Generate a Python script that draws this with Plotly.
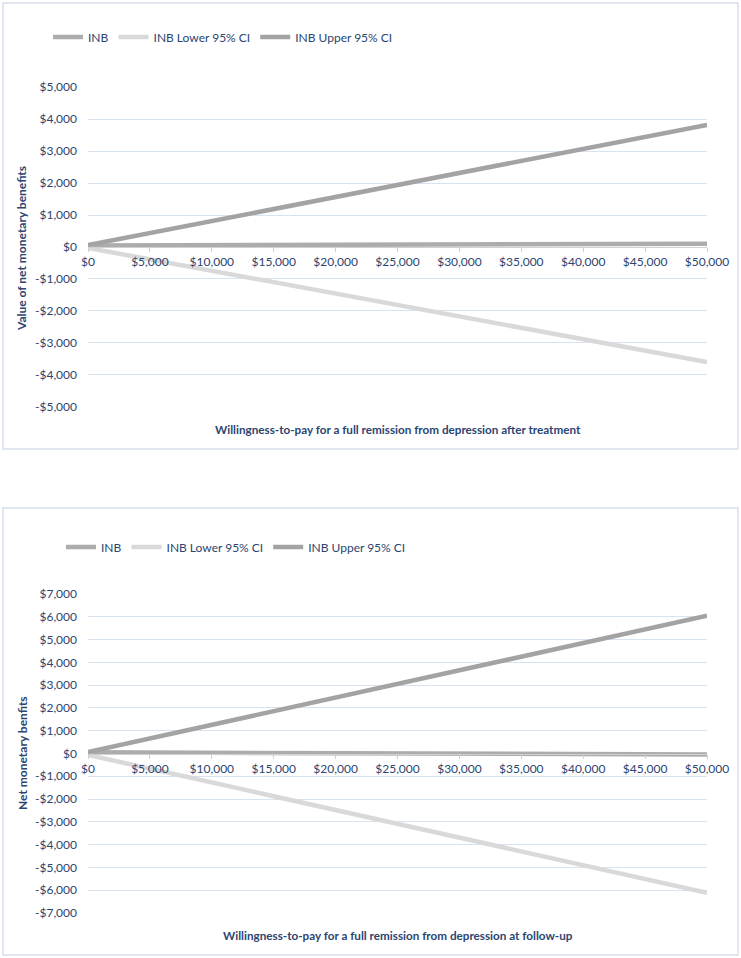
import plotly.graph_objects as go

# ---------------- data ----------------
wtp = [0, 5000, 10000, 15000, 20000, 25000, 30000, 35000, 40000, 45000, 50000]
x_ticktext = ["$0", "$5,000", "$10,000", "$15,000", "$20,000", "$25,000",
              "$30,000", "$35,000", "$40,000", "$45,000", "$50,000"]

# Chart 1: after treatment
inb_1 = [50, 55, 60, 65, 70, 75, 80, 85, 90, 95, 100]
lower_1 = [-30, -387, -744, -1101, -1458, -1815, -2172, -2529, -2886, -3243, -3600]
upper_1 = [60, 436, 812, 1188, 1564, 1940, 2316, 2692, 3068, 3444, 3820]
y1_tickvals = [-5000, -4000, -3000, -2000, -1000, 0, 1000, 2000, 3000, 4000, 5000]
y1_ticktext = ["-$5,000", "-$4,000", "-$3,000", "-$2,000", "-$1,000", "$0",
               "$1,000", "$2,000", "$3,000", "$4,000", "$5,000"]

# Chart 2: follow-up
inb_2 = [50, 40, 30, 20, 10, 0, -5, -15, -25, -35, -40]
lower_2 = [-60, -666, -1272, -1878, -2484, -3090, -3696, -4302, -4908, -5514, -6120]
upper_2 = [60, 660, 1260, 1860, 2460, 3060, 3650, 4250, 4850, 5450, 6050]
y2_tickvals = [-7000, -6000, -5000, -4000, -3000, -2000, -1000, 0,
               1000, 2000, 3000, 4000, 5000, 6000, 7000]
y2_ticktext = ["-$7,000", "-$6,000", "-$5,000", "-$4,000", "-$3,000", "-$2,000",
               "-$1,000", "$0", "$1,000", "$2,000", "$3,000", "$4,000",
               "$5,000", "$6,000", "$7,000"]

series_names = ["INB", "INB Lower 95% CI", "INB Upper 95% CI"]

# ---------------- style ----------------
W, H = 741, 958
FONT = "Lato"
NAVY = "#2B4570"
GRID = "#D9E2F1"
BORDER = "#D6DFEC"
COLORS = {"INB": "#ACACAC", "INB Lower 95% CI": "#D9D9D9", "INB Upper 95% CI": "#A3A3A3"}

def py(pix):
    return 1 - pix / H

def px(pix):
    return pix / W

xdom = [px(88), px(707)]
top_dom = [py(407), py(87)]
bot_dom = [py(913), py(594)]
r1 = [-5006, 5006]
r2 = [-7006, 7006]

def zero_pos(dom, rng):
    return dom[0] + (0 - rng[0]) / (rng[1] - rng[0]) * (dom[1] - dom[0])

fig = go.Figure()

for name, ys in zip(series_names, [inb_1, lower_1, upper_1]):
    fig.add_trace(go.Scatter(x=wtp, y=ys, mode="lines", name=name,
                             line=dict(color=COLORS[name], width=4.5),
                             xaxis="x", yaxis="y", legend="legend"))
for name, ys in zip(series_names, [inb_2, lower_2, upper_2]):
    fig.add_trace(go.Scatter(x=wtp, y=ys, mode="lines", name=name,
                             line=dict(color=COLORS[name], width=4.5),
                             xaxis="x2", yaxis="y2", legend="legend2"))

TICKFONT = dict(family=FONT, size=12, color=NAVY)

xcommon = dict(range=[0, 50000], tickvals=wtp, ticktext=x_ticktext,
               showgrid=False, zeroline=False, showline=True, linecolor="#D0D0D0",
               linewidth=1, ticks="outside", ticklen=4, tickcolor="#D0D0D0",
               tickfont=TICKFONT, domain=xdom,
               anchor="free", fixedrange=True, automargin=False)
ycommon = dict(showgrid=True, gridcolor=GRID, gridwidth=1, zeroline=False,
               showline=False, ticks="", ticklabelstandoff=10, automargin=False,
               tickfont=TICKFONT, fixedrange=True)

LEGFONT = dict(family=FONT, size=12, color=NAVY)

fig.update_layout(
    width=W, height=H,
    margin=dict(l=0, r=0, t=0, b=0, autoexpand=False),
    paper_bgcolor="white", plot_bgcolor="white",
    xaxis=dict(**xcommon, position=zero_pos(top_dom, r1)),
    yaxis=dict(**ycommon, domain=top_dom, range=r1, tickvals=y1_tickvals,
               ticktext=y1_ticktext, anchor="x"),
    xaxis2=dict(**xcommon, position=zero_pos(bot_dom, r2)),
    yaxis2=dict(**ycommon, domain=bot_dom, range=r2, tickvals=y2_tickvals,
                ticktext=y2_ticktext, anchor="x2"),
    legend=dict(orientation="h", x=px(48), y=py(37), xanchor="left", yanchor="middle",
                font=LEGFONT, itemwidth=30,
                bgcolor="rgba(0,0,0,0)", tracegroupgap=0),
    legend2=dict(orientation="h", x=px(61), y=py(547), xanchor="left", yanchor="middle",
                 font=LEGFONT, itemwidth=30,
                 bgcolor="rgba(0,0,0,0)", tracegroupgap=0),
    shapes=[
        dict(type="rect", xref="paper", yref="paper", x0=px(3), x1=px(738),
             y0=py(449), y1=py(3), line=dict(color=BORDER, width=1.5)),
        dict(type="rect", xref="paper", yref="paper", x0=px(3), x1=px(738),
             y0=py(955), y1=py(508), line=dict(color=BORDER, width=1.5)),
    ],
    annotations=[
        dict(text="<b>Willingness-to-pay for a full remission from depression after treatment</b>",
             xref="paper", yref="paper", x=px(398), y=py(429), showarrow=False,
             xanchor="center", yanchor="middle",
             font=dict(family=FONT, size=11.7, color=NAVY)),
        dict(text="<b>Value of net monetary benefits</b>", textangle=-90,
             xref="paper", yref="paper", x=px(22), y=py(249), showarrow=False,
             xanchor="center", yanchor="middle",
             font=dict(family=FONT, size=12, color=NAVY)),
        dict(text="<b>Willingness-to-pay for a full remission from depression at follow-up</b>",
             xref="paper", yref="paper", x=px(398), y=py(935), showarrow=False,
             xanchor="center", yanchor="middle",
             font=dict(family=FONT, size=11.7, color=NAVY)),
        dict(text="<b>Net monetary benfits</b>", textangle=-90,
             xref="paper", yref="paper", x=px(22), y=py(753), showarrow=False,
             xanchor="center", yanchor="middle",
             font=dict(family=FONT, size=12, color=NAVY)),
    ],
)

fig.write_html("out.html", config={"displayModeBar": False},
               post_script="document.body.style.margin='0';document.body.style.overflow='hidden';")
